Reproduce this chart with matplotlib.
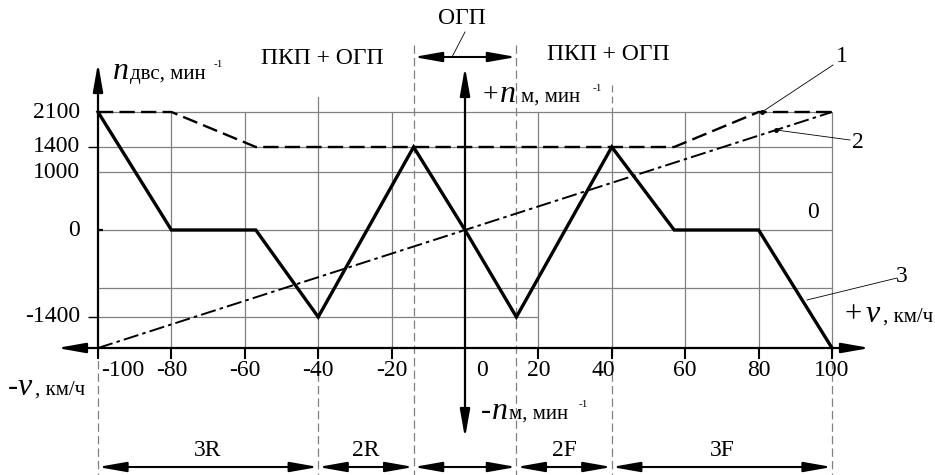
import numpy as np
import matplotlib
matplotlib.use("Agg")
import matplotlib.pyplot as plt
from matplotlib import transforms

plt.rcParams["font.family"] = ["Liberation Serif", "DejaVu Serif"]
plt.rcParams["lines.scale_dashes"] = False

# data
speed_ticks = [-100, -80, -60, -40, -20, 0, 20, 40, 60, 80, 100]
rpm_labels = [2100, 1400, 1000, 0, -1400]
grid_rpm = [2100, 1400, 1000, 0, -1000]

engine_v = [-100, -80, -57, 57, 80, 100]          # 1: n двс
engine_n = [2100, 2100, 1400, 1400, 2100, 2100]
pump_v = [-100, 100]                              # 2
pump_n = [-2100, 2100]
motor_v = [-100, -80, -57, -40, -14, 0, 14, 40, 57, 80, 100]   # 3: n м
motor_n = [2100, 0, 0, -1400, 1400, 0, -1400, 1400, 0, 0, -2100]

range_edges = [-100, -40, -14, 14, 40, 100]
range_names = ["3R", "2R", "", "2F", "3F"]

# schematic (piecewise) vertical scale of the drawing
W, H = 935, 475
y_keys = np.array([-6000, -2100, -1400, -1000, 0, 1000, 1400, 2100, 6000])
y_pix = np.array([523, 348, 317, 288, 230, 172, 147, 112, -83])


def fwd(v):
    return -np.interp(v, y_keys, y_pix)


def inv(p):
    return np.interp(p, -y_pix, y_keys)


def P(px, py):
    return (px / W, 1 - py / H)


fig = plt.figure(figsize=(W / 100, H / 100), dpi=100)
ax = fig.add_axes([0, 0, 1, 1])
ax.set_yscale("function", functions=(fwd, inv))
ppu = (832 - 98) / 200.0
ax.set_xlim(-100 - 98 / ppu, -100 + (W - 98) / ppu)
ax.set_ylim(inv(-H), inv(0))
ax.axis("off")
bt = transforms.blended_transform_factory(ax.transData, ax.transAxes)

grey = "#808080"
# grid
ax.hlines(grid_rpm, -100, 100, color=grey, lw=0.9)
ax.hlines(-1400, -100, 20, color=grey, lw=0.9)
vx = [v for v in speed_ticks if v not in (-100, 0)]
ax.vlines(vx, -2100, 2100, color=grey, lw=0.9)
ax.plot([-40, -40], [P(0, 97)[1], P(0, 112)[1]], color=grey, lw=0.9, transform=bt)
ax.plot([40, 40], [P(0, 85)[1], P(0, 112)[1]], color=grey, lw=0.9, dashes=(5, 3), transform=bt)

# range separators
for x in range_edges:
    top = 45 if abs(x) < 20 else 348
    ax.plot([x, x], [P(0, top)[1], 0], color=grey, lw=0.9, dashes=(6, 3), transform=bt)

# left ticks
ax.hlines([1400, -1400], -100 - 10 / ppu, -100, color="k", lw=1.0)
ax.hlines([0], -100, -100 + 5 / ppu, color="k", lw=1.6)
# x ticks
for x in speed_ticks:
    if x != 0:
        ax.plot([x, x], [P(0, 348)[1], P(0, 358)[1]], color="k", lw=1.5, transform=bt)

# curves
ax.plot(engine_v, engine_n, color="k", lw=1.7, dashes=(11, 4.5))
ax.plot(pump_v, pump_n, color="k", lw=1.4, dashes=(11, 3, 2.5, 3))
ax.plot(motor_v, motor_n, color="k", lw=2.4, solid_joinstyle="miter")

# axes arrows
head = "<|-|>,head_length=1.7,head_width=0.3"
head1 = "-|>,head_length=1.7,head_width=0.3"
ap = dict(arrowstyle=head, color="k", lw=1.6, shrinkA=0, shrinkB=0, mutation_scale=10)
ax.annotate("", xy=P(57, 348), xytext=P(870, 348), xycoords="axes fraction",
            arrowprops=ap)
ax.annotate("", xy=(-100, P(0, 63)[1]), xytext=(-100, P(0, 348)[1]), xycoords=bt,
            arrowprops=dict(ap, arrowstyle=head1))
ax.annotate("", xy=(0, P(0, 67)[1]), xytext=(0, P(0, 438)[1]), xycoords=bt,
            arrowprops=ap)
# ОГП arrow
ax.annotate("", xy=(range_edges[2], P(0, 57)[1]), xytext=(range_edges[3], P(0, 57)[1]),
            xycoords=bt, arrowprops=dict(ap, lw=1.5))
ax.plot(*zip(P(465, 32), P(452, 57)), color="k", lw=0.6, transform=ax.transAxes)

# range arrows
for a, b, name in zip(range_edges[:-1], range_edges[1:], range_names):
    ax.annotate("", xy=(a, P(0, 467)[1]), xytext=(b, P(0, 467)[1]), xycoords=bt,
                arrowprops=dict(ap, lw=1.5))
    if name:
        ax.text((a + b) / 2, P(0, 451)[1], name, transform=bt, ha="center",
                va="center", fontsize=17)

fs = 17
# x tick labels
xoff = {-100: 25, 0: 17, 40: -8}
for x in speed_ticks:
    ax.text(x + xoff.get(x, 0) / ppu, P(0, 371)[1], str(x), transform=bt,
            ha="center", va="center", fontsize=fs)
# y tick labels
for n in rpm_labels:
    ax.text(P(80, 0)[0], n, str(n), transform=transforms.blended_transform_factory(
        ax.transAxes, ax.transData), ha="right", va="center", fontsize=fs)


def T(px, py, s, size, style="normal"):
    ax.text(*P(px, py), s, transform=ax.transAxes, ha="left", va="baseline",
            fontsize=size, style=style)


# axis titles
T(113, 79, "n", 23, "italic")
T(130, 79, "двс, мин", 15)
T(214, 67, "-1", 8)

T(483, 102, "+", 20)
T(500, 102, "n", 23, "italic")
T(521, 102, "м, мин", 15)
T(593, 91, "-1", 8)

T(481, 419, "-", 22)
T(492, 419, "n", 23, "italic")
T(509, 419, "м, мин", 15)
T(579, 407, "-1", 8)

T(845, 322, "+", 22)
T(866, 322, "v", 23, "italic")
T(883, 322, ", км/ч", 15)

T(8, 395, "-", 22)
T(18, 395, "v", 23, "italic")
T(35, 395, ", км/ч", 15)

ax.text(*P(322, 58), "ПКП + ОГП", transform=ax.transAxes, ha="center", va="center", fontsize=fs)
ax.text(*P(608, 54), "ПКП + ОГП", transform=ax.transAxes, ha="center", va="center", fontsize=fs)
ax.text(*P(462, 18), "ОГП", transform=ax.transAxes, ha="center", va="center", fontsize=fs)
ax.text(*P(813, 213), "0", transform=ax.transAxes, ha="center", va="center", fontsize=fs)

# curve numbers with leaders
ax.text(*P(842, 57), "1", transform=ax.transAxes, ha="center", va="center", fontsize=fs)
ax.text(*P(858, 142), "2", transform=ax.transAxes, ha="center", va="center", fontsize=fs)
ax.text(*P(902, 276), "3", transform=ax.transAxes, ha="center", va="center", fontsize=fs)
for a, b in [((833, 65), (762, 112)), ((850, 140), (776, 130)), ((897, 278), (807, 300))]:
    ax.plot(*zip(P(*a), P(*b)), color="k", lw=0.6, transform=ax.transAxes)
ax.plot(*zip(P(762, 112), P(776, 130)), "o", color="k", ms=2.5, transform=ax.transAxes)

fig.savefig("out.png", dpi=100)
